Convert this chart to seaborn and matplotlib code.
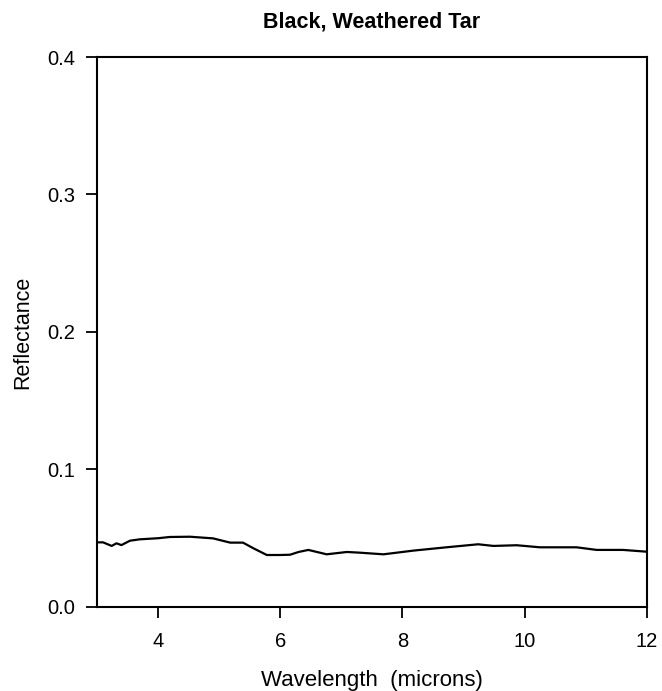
import numpy as np
import pandas as pd
import matplotlib
matplotlib.use("Agg")
import matplotlib.pyplot as plt
import seaborn as sns

# Spectrum
wavelength = [3.00, 3.10, 3.24, 3.32, 3.40, 3.54, 3.70, 4.00, 4.19, 4.52, 4.90, 5.18,
              5.39, 5.56, 5.78, 6.00, 6.16, 6.30, 6.46, 6.60, 6.76, 7.09, 7.30, 7.69,
              8.18, 8.72, 9.24, 9.49, 9.87, 10.25, 10.85, 11.18, 11.61, 12.00]
reflectance = [0.047, 0.047, 0.0444, 0.0463, 0.045, 0.0482, 0.0492, 0.0500, 0.0509,
               0.0511, 0.0499, 0.0468, 0.0468, 0.0427, 0.0378, 0.0378, 0.0380, 0.0400,
               0.0415, 0.0400, 0.0383, 0.0400, 0.0395, 0.0383, 0.0410, 0.0434, 0.0456,
               0.0444, 0.0449, 0.0434, 0.0434, 0.0415, 0.0415, 0.0402]
xticks = [4, 6, 8, 10, 12]
yticks = [0.0, 0.1, 0.2, 0.3, 0.4]

df = pd.DataFrame({"wavelength": wavelength, "reflectance": reflectance})

sns.set_style("ticks")
plt.rcParams['font.family'] = ['Liberation Sans', 'DejaVu Sans']
plt.rcParams['text.color'] = 'black'
plt.rcParams['axes.labelcolor'] = 'black'

fig = plt.figure(figsize=(6.62, 6.91), dpi=100)
ax = fig.add_axes([0.1465, 0.1216, 0.8305, 0.7959])

sns.lineplot(data=df, x="wavelength", y="reflectance", color="black", linewidth=1.6, ax=ax)

ax.set_xlim(3, 12)
ax.set_ylim(0, 0.4)
ax.set_xticks(xticks)
ax.set_yticks(yticks)
ax.set_yticklabels([f"{v:.1f}" for v in yticks])
ax.tick_params(direction="out", length=8, width=1.3, labelsize=14.5, colors="black")
ax.tick_params(axis="x", pad=10)
ax.tick_params(axis="y", pad=8)
for sp in ax.spines.values():
    sp.set_linewidth(1.5)
    sp.set_color("black")

ax.set_title("Black, Weathered Tar", fontsize=15.5, fontweight="bold", pad=21, color="black")
ax.set_xlabel("Wavelength  (microns)", fontsize=16, labelpad=14, color="black")
ax.set_ylabel("Reflectance", fontsize=15.5, labelpad=10, color="black")

fig.savefig("out.png", dpi=100)
